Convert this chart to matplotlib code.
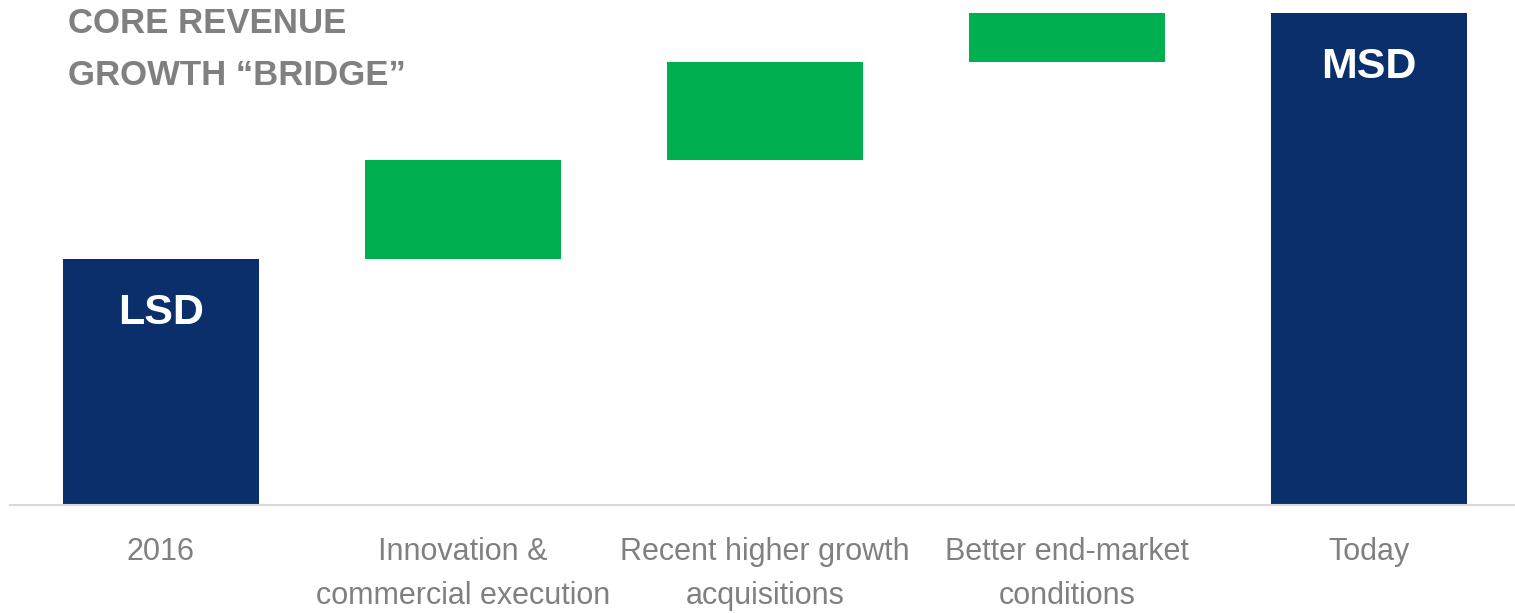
import numpy as np
import matplotlib.pyplot as plt

plt.rcParams['font.family'] = ['Liberation Sans', 'DejaVu Sans']

# waterfall: start, three increments, end
categories = ["2016", "Innovation &\ncommercial execution", "Recent higher growth\nacquisitions",
              "Better end-market\nconditions", "Today"]
start_value = 2.5
increments = [1.0, 1.0, 0.5]
bar_labels = {0: "LSD", 4: "MSD"}

end_value = start_value + sum(increments)
heights = np.array([start_value] + increments + [end_value])
bottoms = np.array([0] + list(start_value + np.cumsum([0] + increments[:-1])) + [0])

navy = '#0B2F6B'
green = '#00B050'
gray = '#808080'
colors = [navy, green, green, green, navy]

fig = plt.figure(figsize=(15.15, 6.13), dpi=100)
ax = fig.add_axes([10 / 1515, 108 / 613, 1510 / 1515, 505 / 613])

x = np.arange(len(categories))
ax.bar(x, heights, bottom=bottoms, width=0.65, color=colors, zorder=2)

for i, lab in bar_labels.items():
    ax.text(x[i], bottoms[i] + heights[i] - 0.55, lab, ha='center', va='center',
            color='white', fontsize=31, fontweight='bold')

ax.set_xlim(-0.5, 4.5)
ax.set_ylim(0, 5.13)
ax.set_xticks(x)
ax.set_xticklabels(categories, fontsize=22, color=gray, linespacing=1.6)
ax.tick_params(axis='x', length=0, pad=23)
ax.set_yticks([])
for side in ['top', 'right', 'left']:
    ax.spines[side].set_visible(False)
ax.spines['bottom'].set_color('#D9D9D9')
ax.spines['bottom'].set_linewidth(1.5)

fig.text(68 / 1515, 1 - 7 / 613, 'CORE REVENUE\nGROWTH \u201cBRIDGE\u201d', ha='left', va='top',
         fontsize=25, fontweight='bold', color=gray, linespacing=1.72)

fig.savefig('out.png', dpi=100)
